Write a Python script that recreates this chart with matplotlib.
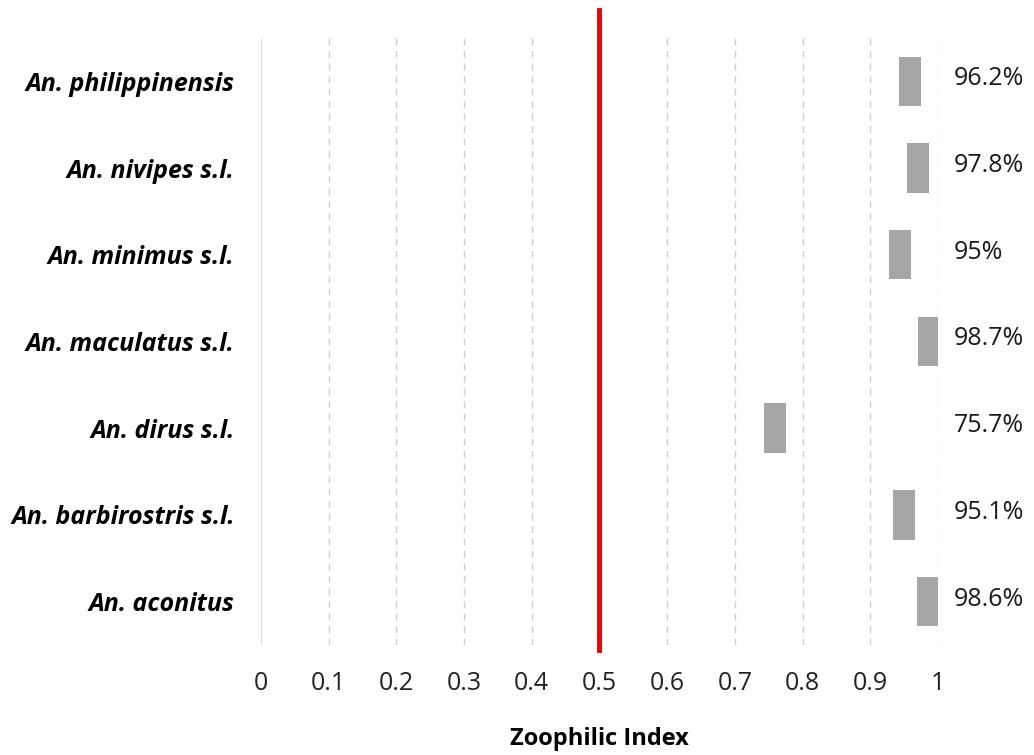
import matplotlib.pyplot as plt

# Species, top to bottom in the chart
species = ['An. philippinensis', 'An. nivipes s.l.', 'An. minimus s.l.',
           'An. maculatus s.l.', 'An. dirus s.l.', 'An. barbirostris s.l.',
           'An. aconitus']
labels = ['96.2%', '97.8%', '95%', '98.7%', '75.7%', '95.1%', '98.6%']
# left and right ends of each grey bar
bar_left = [0.942, 0.954, 0.928, 0.971, 0.743, 0.934, 0.969]
bar_right = [0.975, 0.987, 0.960, 1.000, 0.775, 0.966, 1.000]
ticks = [0, 0.1, 0.2, 0.3, 0.4, 0.5, 0.6, 0.7, 0.8, 0.9, 1]
tick_labels = ['0', '0.1', '0.2', '0.3', '0.4', '0.5', '0.6', '0.7', '0.8', '0.9', '1']

plt.rcParams['font.family'] = ['Open Sans', 'DejaVu Sans']

fig = plt.figure(figsize=(10.34, 7.55), dpi=100)
ax = fig.add_axes([0.2524, 0.1457, 0.6547, 0.804])

n = len(species)
ypos = list(range(n - 1, -1, -1))
widths = [r - l for l, r in zip(bar_left, bar_right)]
ax.barh(ypos, widths, left=bar_left, height=0.57, color='#a6a6a6', zorder=3)

# value labels on the right
for y, txt in zip(ypos, labels):
    ax.text(1.023, y + 0.03, txt, va='center', ha='left', fontsize=18,
            color='#1a1a1a', clip_on=False)

# grid
for t in ticks[1:]:
    ax.axvline(t, color='#d0d0d0', lw=1, ls=(0, (5, 4)), zorder=1)
ax.axvline(0, color='#d9d9d9', lw=1.2, zorder=1)

# red reference line at 0.5, running past the plot area
ax.axvline(0.5, ymin=-0.008, ymax=1.046, color='#ee0000', lw=3.5, zorder=4,
           clip_on=False)

ax.set_xlim(0, 1)
ax.set_ylim(-0.5, n - 0.5)
ax.set_xticks(ticks)
ax.set_xticklabels(tick_labels, fontsize=18, color='#222222')
ax.set_yticks(ypos)
ax.set_yticklabels(species, fontsize=18, fontweight='bold', fontstyle='italic')
ax.tick_params(axis='both', length=0)
ax.tick_params(axis='x', pad=19)
ax.tick_params(axis='y', pad=19)
for s in ax.spines.values():
    s.set_visible(False)

ax.set_xlabel('Zoophilic Index', fontsize=17, fontweight='bold', labelpad=22)

plt.savefig('out.png', dpi=100)
